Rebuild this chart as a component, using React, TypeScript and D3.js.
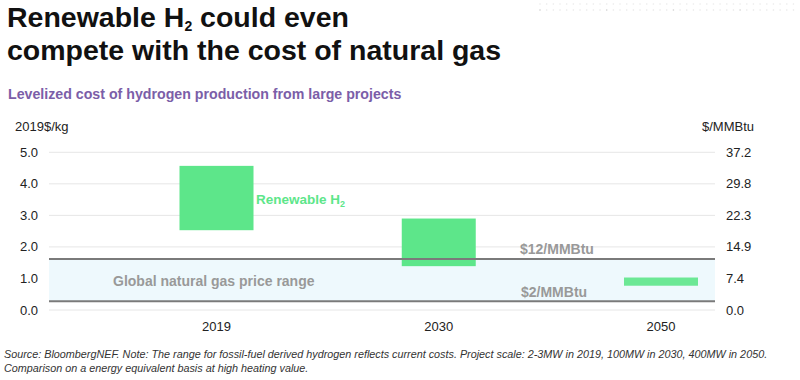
import React from "react";
import * as d3 from "d3";

const categories = ["2019", "2030", "2050"];
const lowValues = [2.53, 1.39, 0.77];
const highValues = [4.57, 2.9, 1.03];
const leftTicks = [0, 1, 2, 3, 4, 5];
const rightTickLabels = ["0.0", "7.4", "14.9", "22.3", "29.8", "37.2"];
const gasLow = 0.28;
const gasHigh = 1.62;

const W = 800;
const H = 380;

export default function App() {
  const y = d3.scaleLinear().domain([0, 5]).range([310, 152.3]);
  const x = d3.scalePoint<string>().domain(categories).range([216.5, 661]);
  const barW = 74;
  const plotL = 49;
  const plotR = 715;
  const font = "'Liberation Sans', Arial, Helvetica, sans-serif";

  const dots: { cx: number; cy: number; o: number }[] = [];
  for (let i = 0; i < 39; i++) {
    dots.push({ cx: 540 + i * 6.67, cy: 4, o: 0.18 });
    dots.push({ cx: 540 + i * 6.67, cy: 10, o: i % 10 === 0 ? 0.4 : 0.2 });
  }

  return (
    <svg width={W} height={H} style={{ position: "absolute", left: 0, top: 0, background: "#fff" }} fontFamily={font}>
      <rect x={0} y={0} width={W} height={H} fill="#fff" />
      {dots.map((d, i) => (
        <circle key={i} cx={d.cx} cy={d.cy} r={0.8} fill="#888" opacity={d.o} />
      ))}
      <text x={7} y={27} fontSize={28.5} fontWeight="bold" fill="#111">
        Renewable H<tspan fontSize={14} dy={4}>2</tspan>
        <tspan dy={-4}> could even</tspan>
      </text>
      <text x={7} y={60} fontSize={28.5} fontWeight="bold" fill="#111">
        compete with the cost of natural gas
      </text>
      <text x={8} y={99} fontSize={14.2} fontWeight="bold" fill="#7b5ea8">
        Levelized cost of hydrogen production from large projects
      </text>

      <text x={15} y={131} fontSize={13} fill="#222">2019$/kg</text>
      <text x={754} y={131} fontSize={13} fill="#222" textAnchor="end">$/MMBtu</text>

      {leftTicks.map((t) => (
        <g key={t}>
          <line x1={plotL} x2={plotR} y1={y(t)} y2={y(t)} stroke="#e6e6e6" strokeWidth={1} />
          <text x={38} y={y(t) + 4.5} fontSize={13} fill="#222" textAnchor="end">
            {t.toFixed(1)}
          </text>
        </g>
      ))}
      {leftTicks.map((t, i) => (
        <text key={"r" + t} x={726} y={y(t) + 4.5} fontSize={13} fill="#222">
          {rightTickLabels[i]}
        </text>
      ))}

      <rect x={plotL} y={y(gasHigh)} width={plotR - plotL} height={y(gasLow) - y(gasHigh)} fill="#eef9fd" />

      {categories.map((c, i) => (
        <rect
          key={c}
          x={(x(c) as number) - barW / 2}
          y={y(highValues[i])}
          width={barW}
          height={y(lowValues[i]) - y(highValues[i])}
          fill="#5de68a"
          opacity={i === 2 ? 0.9 : 1}
        />
      ))}

      <line x1={plotL} x2={plotR} y1={y(gasHigh)} y2={y(gasHigh)} stroke="#7a7a7a" strokeWidth={2} />
      <line x1={plotL} x2={plotR} y1={y(gasLow)} y2={y(gasLow)} stroke="#7a7a7a" strokeWidth={2} />

      {categories.map((c) => (
        <text key={"l" + c} x={x(c) as number} y={331} fontSize={13} fill="#222" textAnchor="middle">
          {c}
        </text>
      ))}

      <text x={256} y={204} fontSize={13.5} fontWeight="bold" fill="#5de68a">
        Renewable H<tspan fontSize={9} dy={3}>2</tspan>
      </text>
      <text x={113} y={286} fontSize={14} fontWeight="bold" fill="#999">
        Global natural gas price range
      </text>
      <text x={520} y={254} fontSize={14} fontWeight="bold" fill="#999">$12/MMBtu</text>
      <text x={521} y={297} fontSize={14} fontWeight="bold" fill="#999">$2/MMBtu</text>

      <text x={4} y={358} fontSize={10.8} fontStyle="italic" fill="#333">
        Source: BloombergNEF. Note: The range for fossil-fuel derived hydrogen reflects current costs. Project scale: 2-3MW in 2019, 100MW in 2030, 400MW in 2050.
      </text>
      <text x={4} y={372} fontSize={10.8} fontStyle="italic" fill="#333">
        Comparison on a energy equivalent basis at high heating value.
      </text>
    </svg>
  );
}
